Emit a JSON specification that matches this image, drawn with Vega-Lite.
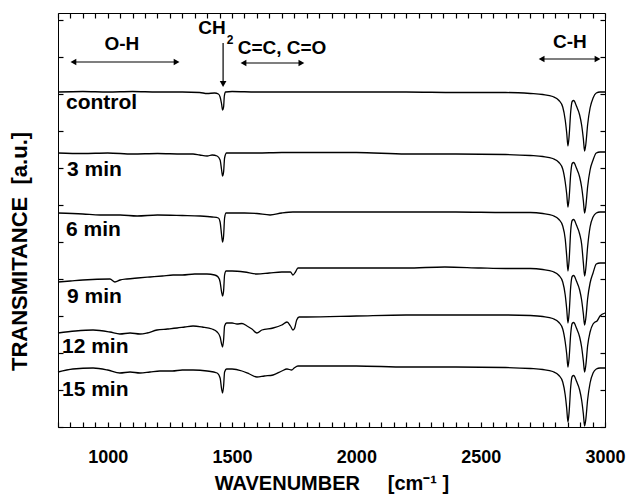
{
  "$schema": "https://vega.github.io/schema/vega-lite/v6.json",
  "width": 547,
  "height": 414,
  "autosize": "none",
  "padding": {"left": 58, "top": 13, "right": 23, "bottom": 71},
  "datasets": {
    "spectra": [
      {"s":"control","wn":800,"t":335},{"s":"control","wn":900,"t":335.5},{"s":"control","wn":1000,"t":335},{"s":"control","wn":1100,"t":335.5},{"s":"control","wn":1200,"t":335},{"s":"control","wn":1300,"t":335},{"s":"control","wn":1370,"t":334.5},{"s":"control","wn":1400,"t":333.5},{"s":"control","wn":1430,"t":334},{"s":"control","wn":1445,"t":333},{"s":"control","wn":1452,"t":330},{"s":"control","wn":1458,"t":323},{"s":"control","wn":1462,"t":317},{"s":"control","wn":1466,"t":320},{"s":"control","wn":1469,"t":331},{"s":"control","wn":1474,"t":335},{"s":"control","wn":1500,"t":335.5},{"s":"control","wn":1600,"t":335},{"s":"control","wn":1800,"t":335},{"s":"control","wn":2000,"t":335},{"s":"control","wn":2200,"t":335},{"s":"control","wn":2400,"t":334.5},{"s":"control","wn":2600,"t":334.5},{"s":"control","wn":2700,"t":333.5},{"s":"control","wn":2750,"t":332.5},{"s":"control","wn":2790,"t":330.5},{"s":"control","wn":2815,"t":326.5},{"s":"control","wn":2830,"t":320},{"s":"control","wn":2840,"t":307},{"s":"control","wn":2846,"t":294},{"s":"control","wn":2851,"t":281},{"s":"control","wn":2856,"t":292},{"s":"control","wn":2862,"t":315},{"s":"control","wn":2868,"t":325.5},{"s":"control","wn":2874,"t":326.5},{"s":"control","wn":2885,"t":321},{"s":"control","wn":2898,"t":312},{"s":"control","wn":2906,"t":302},{"s":"control","wn":2913,"t":288},{"s":"control","wn":2918,"t":276},{"s":"control","wn":2923,"t":283},{"s":"control","wn":2930,"t":302},{"s":"control","wn":2940,"t":319},{"s":"control","wn":2952,"t":329},{"s":"control","wn":2965,"t":334},{"s":"control","wn":2980,"t":335},{"s":"control","wn":3000,"t":335},
      {"s":"3 min","wn":800,"t":274},{"s":"3 min","wn":900,"t":273.5},{"s":"3 min","wn":1000,"t":274},{"s":"3 min","wn":1100,"t":273},{"s":"3 min","wn":1200,"t":273.5},{"s":"3 min","wn":1300,"t":273},{"s":"3 min","wn":1343,"t":273},{"s":"3 min","wn":1370,"t":272},{"s":"3 min","wn":1400,"t":271},{"s":"3 min","wn":1420,"t":272},{"s":"3 min","wn":1440,"t":271},{"s":"3 min","wn":1452,"t":267},{"s":"3 min","wn":1458,"t":257},{"s":"3 min","wn":1462,"t":251},{"s":"3 min","wn":1466,"t":255},{"s":"3 min","wn":1470,"t":269},{"s":"3 min","wn":1478,"t":274},{"s":"3 min","wn":1500,"t":274},{"s":"3 min","wn":1600,"t":274},{"s":"3 min","wn":1700,"t":274.5},{"s":"3 min","wn":1800,"t":274.5},{"s":"3 min","wn":2000,"t":274.5},{"s":"3 min","wn":2200,"t":273},{"s":"3 min","wn":2400,"t":273},{"s":"3 min","wn":2600,"t":272.5},{"s":"3 min","wn":2700,"t":271.5},{"s":"3 min","wn":2750,"t":270.5},{"s":"3 min","wn":2790,"t":268.5},{"s":"3 min","wn":2815,"t":264.5},{"s":"3 min","wn":2830,"t":258},{"s":"3 min","wn":2840,"t":245},{"s":"3 min","wn":2846,"t":233},{"s":"3 min","wn":2851,"t":220},{"s":"3 min","wn":2856,"t":230},{"s":"3 min","wn":2862,"t":253},{"s":"3 min","wn":2868,"t":263.5},{"s":"3 min","wn":2874,"t":264.5},{"s":"3 min","wn":2885,"t":259},{"s":"3 min","wn":2898,"t":250},{"s":"3 min","wn":2906,"t":240},{"s":"3 min","wn":2913,"t":226},{"s":"3 min","wn":2918,"t":214},{"s":"3 min","wn":2923,"t":221},{"s":"3 min","wn":2930,"t":240},{"s":"3 min","wn":2940,"t":257},{"s":"3 min","wn":2952,"t":267},{"s":"3 min","wn":2965,"t":274},{"s":"3 min","wn":2980,"t":275},{"s":"3 min","wn":3000,"t":275},
      {"s":"6 min","wn":800,"t":214},{"s":"6 min","wn":900,"t":213},{"s":"6 min","wn":969,"t":212},{"s":"6 min","wn":1050,"t":212},{"s":"6 min","wn":1118,"t":211},{"s":"6 min","wn":1200,"t":212},{"s":"6 min","wn":1300,"t":211.5},{"s":"6 min","wn":1371,"t":211},{"s":"6 min","wn":1420,"t":210},{"s":"6 min","wn":1445,"t":209},{"s":"6 min","wn":1452,"t":205},{"s":"6 min","wn":1458,"t":192},{"s":"6 min","wn":1462,"t":185},{"s":"6 min","wn":1466,"t":191},{"s":"6 min","wn":1470,"t":209},{"s":"6 min","wn":1476,"t":214},{"s":"6 min","wn":1500,"t":214},{"s":"6 min","wn":1550,"t":214},{"s":"6 min","wn":1600,"t":213.5},{"s":"6 min","wn":1653,"t":212},{"s":"6 min","wn":1700,"t":214},{"s":"6 min","wn":1745,"t":215},{"s":"6 min","wn":1800,"t":215},{"s":"6 min","wn":2000,"t":215},{"s":"6 min","wn":2200,"t":215},{"s":"6 min","wn":2400,"t":215},{"s":"6 min","wn":2600,"t":214.5},{"s":"6 min","wn":2700,"t":214.5},{"s":"6 min","wn":2750,"t":213.5},{"s":"6 min","wn":2790,"t":211.5},{"s":"6 min","wn":2815,"t":207.5},{"s":"6 min","wn":2830,"t":201},{"s":"6 min","wn":2840,"t":188},{"s":"6 min","wn":2846,"t":171},{"s":"6 min","wn":2851,"t":156},{"s":"6 min","wn":2856,"t":168},{"s":"6 min","wn":2862,"t":196},{"s":"6 min","wn":2868,"t":206.5},{"s":"6 min","wn":2874,"t":207.5},{"s":"6 min","wn":2885,"t":202},{"s":"6 min","wn":2898,"t":193},{"s":"6 min","wn":2906,"t":183},{"s":"6 min","wn":2913,"t":164},{"s":"6 min","wn":2918,"t":151},{"s":"6 min","wn":2923,"t":159},{"s":"6 min","wn":2930,"t":180},{"s":"6 min","wn":2940,"t":200},{"s":"6 min","wn":2952,"t":210},{"s":"6 min","wn":2965,"t":214},{"s":"6 min","wn":2980,"t":215},{"s":"6 min","wn":3000,"t":215},
      {"s":"9 min","wn":800,"t":145},{"s":"9 min","wn":850,"t":146},{"s":"9 min","wn":900,"t":147},{"s":"9 min","wn":1009,"t":148},{"s":"9 min","wn":1029,"t":145},{"s":"9 min","wn":1050,"t":147},{"s":"9 min","wn":1077,"t":148},{"s":"9 min","wn":1120,"t":149},{"s":"9 min","wn":1170,"t":150},{"s":"9 min","wn":1220,"t":151},{"s":"9 min","wn":1263,"t":152},{"s":"9 min","wn":1300,"t":152},{"s":"9 min","wn":1350,"t":153},{"s":"9 min","wn":1399,"t":153},{"s":"9 min","wn":1430,"t":152},{"s":"9 min","wn":1444,"t":150},{"s":"9 min","wn":1452,"t":145},{"s":"9 min","wn":1458,"t":135},{"s":"9 min","wn":1462,"t":131},{"s":"9 min","wn":1466,"t":136},{"s":"9 min","wn":1470,"t":152},{"s":"9 min","wn":1476,"t":156},{"s":"9 min","wn":1500,"t":156},{"s":"9 min","wn":1550,"t":155},{"s":"9 min","wn":1600,"t":153},{"s":"9 min","wn":1650,"t":154},{"s":"9 min","wn":1700,"t":155},{"s":"9 min","wn":1735,"t":155},{"s":"9 min","wn":1745,"t":152},{"s":"9 min","wn":1755,"t":155},{"s":"9 min","wn":1765,"t":159},{"s":"9 min","wn":1800,"t":159},{"s":"9 min","wn":2000,"t":159},{"s":"9 min","wn":2200,"t":159},{"s":"9 min","wn":2356,"t":160},{"s":"9 min","wn":2500,"t":159},{"s":"9 min","wn":2600,"t":158.5},{"s":"9 min","wn":2700,"t":158.5},{"s":"9 min","wn":2750,"t":157.5},{"s":"9 min","wn":2790,"t":155.5},{"s":"9 min","wn":2815,"t":151.5},{"s":"9 min","wn":2830,"t":145},{"s":"9 min","wn":2840,"t":132},{"s":"9 min","wn":2846,"t":118},{"s":"9 min","wn":2851,"t":104},{"s":"9 min","wn":2856,"t":115},{"s":"9 min","wn":2862,"t":140},{"s":"9 min","wn":2868,"t":150.5},{"s":"9 min","wn":2874,"t":151.5},{"s":"9 min","wn":2885,"t":146},{"s":"9 min","wn":2898,"t":137},{"s":"9 min","wn":2906,"t":127},{"s":"9 min","wn":2913,"t":113},{"s":"9 min","wn":2918,"t":102},{"s":"9 min","wn":2923,"t":109},{"s":"9 min","wn":2930,"t":128},{"s":"9 min","wn":2940,"t":144},{"s":"9 min","wn":2952,"t":154},{"s":"9 min","wn":2965,"t":163},{"s":"9 min","wn":2980,"t":164},{"s":"9 min","wn":3000,"t":164},
      {"s":"12 min","wn":800,"t":94},{"s":"12 min","wn":870,"t":96},{"s":"12 min","wn":941,"t":97},{"s":"12 min","wn":1009,"t":95},{"s":"12 min","wn":1049,"t":93},{"s":"12 min","wn":1090,"t":94},{"s":"12 min","wn":1130,"t":93},{"s":"12 min","wn":1158,"t":94},{"s":"12 min","wn":1198,"t":97},{"s":"12 min","wn":1240,"t":98},{"s":"12 min","wn":1279,"t":99},{"s":"12 min","wn":1310,"t":100},{"s":"12 min","wn":1343,"t":101},{"s":"12 min","wn":1380,"t":100},{"s":"12 min","wn":1420,"t":98},{"s":"12 min","wn":1440,"t":95},{"s":"12 min","wn":1452,"t":90},{"s":"12 min","wn":1458,"t":83},{"s":"12 min","wn":1462,"t":80},{"s":"12 min","wn":1466,"t":87},{"s":"12 min","wn":1470,"t":101},{"s":"12 min","wn":1478,"t":104},{"s":"12 min","wn":1500,"t":104},{"s":"12 min","wn":1520,"t":103},{"s":"12 min","wn":1540,"t":103.5},{"s":"12 min","wn":1560,"t":101},{"s":"12 min","wn":1580,"t":98},{"s":"12 min","wn":1600,"t":94},{"s":"12 min","wn":1620,"t":97},{"s":"12 min","wn":1665,"t":99},{"s":"12 min","wn":1700,"t":102},{"s":"12 min","wn":1721,"t":105},{"s":"12 min","wn":1735,"t":101},{"s":"12 min","wn":1745,"t":97},{"s":"12 min","wn":1752,"t":99},{"s":"12 min","wn":1760,"t":107},{"s":"12 min","wn":1770,"t":110},{"s":"12 min","wn":1800,"t":110},{"s":"12 min","wn":2000,"t":111},{"s":"12 min","wn":2200,"t":112},{"s":"12 min","wn":2400,"t":112},{"s":"12 min","wn":2600,"t":112},{"s":"12 min","wn":2700,"t":111.5},{"s":"12 min","wn":2750,"t":110.5},{"s":"12 min","wn":2790,"t":108.5},{"s":"12 min","wn":2815,"t":104.5},{"s":"12 min","wn":2830,"t":98},{"s":"12 min","wn":2840,"t":85},{"s":"12 min","wn":2846,"t":73},{"s":"12 min","wn":2851,"t":60},{"s":"12 min","wn":2856,"t":70},{"s":"12 min","wn":2862,"t":93},{"s":"12 min","wn":2868,"t":103.5},{"s":"12 min","wn":2874,"t":104.5},{"s":"12 min","wn":2885,"t":99},{"s":"12 min","wn":2898,"t":90},{"s":"12 min","wn":2906,"t":80},{"s":"12 min","wn":2913,"t":66},{"s":"12 min","wn":2918,"t":55},{"s":"12 min","wn":2923,"t":62},{"s":"12 min","wn":2930,"t":81},{"s":"12 min","wn":2940,"t":95},{"s":"12 min","wn":2952,"t":103},{"s":"12 min","wn":2960,"t":105},{"s":"12 min","wn":2968,"t":106},{"s":"12 min","wn":2980,"t":111},{"s":"12 min","wn":3000,"t":114},
      {"s":"15 min","wn":800,"t":55},{"s":"15 min","wn":860,"t":58},{"s":"15 min","wn":941,"t":59},{"s":"15 min","wn":1000,"t":57},{"s":"15 min","wn":1049,"t":54},{"s":"15 min","wn":1090,"t":55},{"s":"15 min","wn":1130,"t":54},{"s":"15 min","wn":1170,"t":55},{"s":"15 min","wn":1210,"t":56},{"s":"15 min","wn":1260,"t":56},{"s":"15 min","wn":1300,"t":57},{"s":"15 min","wn":1343,"t":57},{"s":"15 min","wn":1400,"t":56},{"s":"15 min","wn":1440,"t":54},{"s":"15 min","wn":1452,"t":49},{"s":"15 min","wn":1458,"t":38},{"s":"15 min","wn":1462,"t":34},{"s":"15 min","wn":1466,"t":41},{"s":"15 min","wn":1470,"t":55},{"s":"15 min","wn":1478,"t":58},{"s":"15 min","wn":1500,"t":58},{"s":"15 min","wn":1540,"t":56},{"s":"15 min","wn":1570,"t":53},{"s":"15 min","wn":1600,"t":50},{"s":"15 min","wn":1630,"t":51},{"s":"15 min","wn":1665,"t":52},{"s":"15 min","wn":1700,"t":56},{"s":"15 min","wn":1721,"t":58},{"s":"15 min","wn":1740,"t":57},{"s":"15 min","wn":1750,"t":59},{"s":"15 min","wn":1765,"t":61},{"s":"15 min","wn":1800,"t":61},{"s":"15 min","wn":2000,"t":61},{"s":"15 min","wn":2200,"t":60},{"s":"15 min","wn":2400,"t":60},{"s":"15 min","wn":2600,"t":59.5},{"s":"15 min","wn":2700,"t":58.5},{"s":"15 min","wn":2750,"t":57.5},{"s":"15 min","wn":2790,"t":55.5},{"s":"15 min","wn":2815,"t":51.5},{"s":"15 min","wn":2830,"t":45},{"s":"15 min","wn":2840,"t":32},{"s":"15 min","wn":2846,"t":18.5},{"s":"15 min","wn":2851,"t":5},{"s":"15 min","wn":2856,"t":16},{"s":"15 min","wn":2862,"t":40},{"s":"15 min","wn":2868,"t":50.5},{"s":"15 min","wn":2874,"t":51.5},{"s":"15 min","wn":2885,"t":46},{"s":"15 min","wn":2898,"t":37},{"s":"15 min","wn":2906,"t":27},{"s":"15 min","wn":2913,"t":13},{"s":"15 min","wn":2918,"t":1},{"s":"15 min","wn":2923,"t":8},{"s":"15 min","wn":2930,"t":27},{"s":"15 min","wn":2940,"t":44},{"s":"15 min","wn":2952,"t":54},{"s":"15 min","wn":2965,"t":58},{"s":"15 min","wn":2980,"t":59},{"s":"15 min","wn":3000,"t":59}
    ],
    "labels": [
      {"label":"control","wn":832,"t":324},
      {"label":"3 min","wn":836,"t":257},
      {"label":"6 min","wn":832,"t":197},
      {"label":"9 min","wn":836,"t":130},
      {"label":"12 min","wn":816,"t":80},
      {"label":"15 min","wn":816,"t":37}
    ],
    "bands": [
      {"label":"O-H","wn":1057,"t":383},
      {"label":"CH","wn":1419,"t":399},
      {"label":"C=C, C=O","wn":1701,"t":379},
      {"label":"C-H","wn":2859,"t":385}
    ],
    "subs": [
      {"label":"2","wn":1492,"t":387}
    ],
    "arrows": [
      {"x1":862,"x2":1277,"y1":365,"y2":365},
      {"x1":1546,"x2":1779,"y1":364,"y2":364},
      {"x1":2745,"x2":2970,"y1":368,"y2":368},
      {"x1":1464,"x2":1464,"y1":384,"y2":343}
    ],
    "heads": [
      {"wn":862,"t":365,"dir":"left"},
      {"wn":1277,"t":365,"dir":"right"},
      {"wn":1546,"t":364,"dir":"left"},
      {"wn":1779,"t":364,"dir":"right"},
      {"wn":2745,"t":368,"dir":"left"},
      {"wn":2970,"t":368,"dir":"right"},
      {"wn":1464,"t":343,"dir":"down"}
    ]
  },
  "layer": [
    {
      "data": {"name": "bands"},
      "mark": {"type": "text", "align": "center", "baseline": "middle", "fontSize": 19, "fontWeight": "bold", "color": "black"},
      "encoding": {
        "x": {"field": "wn", "type": "quantitative", "axis": null},
        "y": {"field": "t", "type": "quantitative", "axis": null},
        "text": {"field": "label"}
      }
    },
    {
      "data": {"name": "subs"},
      "mark": {"type": "text", "align": "center", "baseline": "middle", "fontSize": 12, "fontWeight": "bold", "color": "black"},
      "encoding": {
        "x": {"field": "wn", "type": "quantitative", "axis": null},
        "y": {"field": "t", "type": "quantitative", "axis": null},
        "text": {"field": "label"}
      }
    },
    {
      "data": {"name": "arrows"},
      "mark": {"type": "rule", "color": "black", "strokeWidth": 1.2},
      "encoding": {
        "x": {"field": "x1", "type": "quantitative", "axis": null},
        "x2": {"field": "x2"},
        "y": {"field": "y1", "type": "quantitative", "axis": null},
        "y2": {"field": "y2"}
      }
    },
    {
      "data": {"name": "heads"},
      "transform": [{"filter": {"field": "dir", "equal": "left"}}],
      "mark": {"type": "point", "shape": "triangle-left", "filled": true, "color": "black", "opacity": 1, "size": 45, "strokeWidth": 0},
      "encoding": {
        "x": {"field": "wn", "type": "quantitative", "axis": null},
        "y": {"field": "t", "type": "quantitative", "axis": null}
      }
    },
    {
      "data": {"name": "heads"},
      "transform": [{"filter": {"field": "dir", "equal": "right"}}],
      "mark": {"type": "point", "shape": "triangle-right", "filled": true, "color": "black", "opacity": 1, "size": 45, "strokeWidth": 0},
      "encoding": {
        "x": {"field": "wn", "type": "quantitative", "axis": null},
        "y": {"field": "t", "type": "quantitative", "axis": null}
      }
    },
    {
      "data": {"name": "heads"},
      "transform": [{"filter": {"field": "dir", "equal": "down"}}],
      "mark": {"type": "point", "shape": "triangle-down", "filled": true, "color": "black", "opacity": 1, "size": 45, "strokeWidth": 0},
      "encoding": {
        "x": {"field": "wn", "type": "quantitative", "axis": null},
        "y": {"field": "t", "type": "quantitative", "axis": null}
      }
    },
    {
      "data": {"name": "labels"},
      "mark": {"type": "text", "align": "left", "baseline": "middle", "fontSize": 21, "fontWeight": "bold", "color": "black"},
      "encoding": {
        "x": {"field": "wn", "type": "quantitative",
          "scale": {"domain": [800, 3000], "nice": false, "zero": false},
          "axis": {"orient": "top", "offset": -5, "domain": false, "grid": false, "zindex": 1,
            "values": [800,850,900,950,1000,1050,1100,1150,1200,1250,1300,1350,1400,1450,1500,1550,1600,1650,1700,1750,1800,1850,1900,1950,2000,2050,2100,2150,2200,2250,2300,2350,2400,2450,2500,2550,2600,2650,2700,2750,2800,2850,2900,2950,3000],
            "labels": false, "tickSize": 5, "tickWidth": 1.2, "tickColor": "black", "title": null}
        },
        "y": {"field": "t", "type": "quantitative",
          "scale": {"domain": [0, 414], "nice": false, "zero": false},
          "axis": {"orient": "right", "offset": -5, "domain": false, "grid": false, "zindex": 1,
            "values": [0,37,74,111,148,185,222,259,296,333,370,407],
            "labels": false, "tickSize": 5, "tickWidth": 1.2, "tickColor": "black", "title": null}
        },
        "text": {"field": "label"}
      }
    },
    {
      "data": {"name": "spectra"},
      "mark": {"type": "line", "color": "black", "strokeWidth": 1.3, "interpolate": "monotone"},
      "encoding": {
        "x": {"field": "wn", "type": "quantitative",
          "scale": {"domain": [800, 3000], "nice": false, "zero": false},
          "axis": {"orient": "bottom", "offset": -5, "domain": false, "grid": false, "zindex": 1,
            "values": [800,850,900,950,1000,1050,1100,1150,1200,1250,1300,1350,1400,1450,1500,1550,1600,1650,1700,1750,1800,1850,1900,1950,2000,2050,2100,2150,2200,2250,2300,2350,2400,2450,2500,2550,2600,2650,2700,2750,2800,2850,2900,2950,3000],
            "format": "d",
            "labelExpr": "datum.value % 500 === 0 && datum.value > 800 ? datum.label : ''",
            "labelFontSize": 18, "labelFontWeight": "bold", "labelColor": "black",
            "labelOverlap": false, "labelFlush": false, "labelPadding": 21,
            "tickSize": 5, "tickWidth": 1.2, "tickColor": "black",
            "title": "WAVENUMBER\u00a0\u00a0\u00a0\u00a0\u00a0[cm⁻¹\u00a0]", "titleFontSize": 20, "titleFontWeight": "bold", "titleColor": "black", "titlePadding": 7}
        },
        "y": {"field": "t", "type": "quantitative",
          "scale": {"domain": [0, 414], "nice": false, "zero": false},
          "axis": {"orient": "left", "offset": -5, "domain": false, "grid": false, "zindex": 1,
            "values": [0,37,74,111,148,185,222,259,296,333,370,407],
            "labels": false, "tickSize": 5, "tickWidth": 1.2, "tickColor": "black",
            "title": "TRANSMITANCE\u00a0\u00a0[a.u.]", "titleFontSize": 22, "titleFontWeight": "bold", "titleColor": "black",
            "titleX": -32, "titleY": 238}
        },
        "detail": {"field": "s"}
      }
    }
  ],
  "resolve": {"axis": {"x": "independent", "y": "independent"}},
  "config": {
    "font": "Liberation Sans",
    "view": {"stroke": "black", "strokeWidth": 1}
  }
}
